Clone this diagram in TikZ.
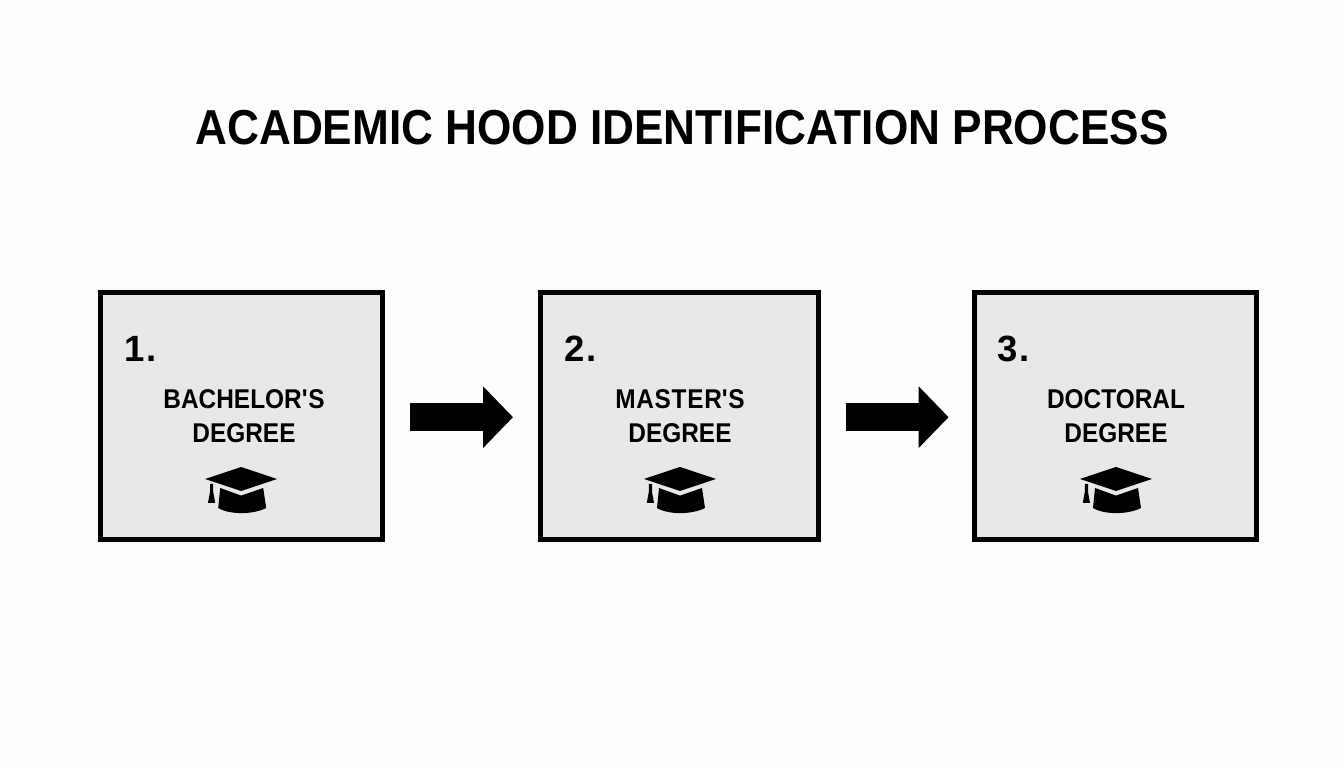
\documentclass[tikz,border=0pt]{standalone}
\usepackage{fontspec}
\setmainfont{Liberation Sans}
\newfontfamily\narrowfont[FakeStretch=0.9]{Liberation Sans}
\usetikzlibrary{arrows.meta}

\definecolor{boxgray}{HTML}{E8E8E8}
\definecolor{pagewhite}{HTML}{FDFDFD}

\tikzset{
  degreebox/.style={draw=black, fill=boxgray, line width=0.125cm, minimum width=7.05cm, minimum height=6.175cm, inner sep=0pt, outer sep=0pt},
  numlabel/.style={anchor=base west, inner sep=0pt, font=\fontsize{26}{30}\selectfont\bfseries},
  degreelabel/.style={align=center, inner sep=0pt, font=\narrowfont\fontsize{19.3}{24}\selectfont\bfseries},
  bigarrow/.style={line width=0.7cm, -{Triangle[length=0.75cm, width=1.5cm]}, shorten <=0.69cm, shorten >=0.69cm},
  hat/.pic={
    \fill (0,.575) -- (-.9,.275) -- (0,-.025) -- (.9,.275) -- cycle;
    \fill (-.525,.05) -- (0,-.14) -- (.55,.05) -- (.625,-.45) .. controls (.3,-.62) and (-.3,-.62) .. (-.575,-.45) -- cycle;
    \fill (-.78,.15) -- (-.70,.15) -- (-.70,-.05) -- (-.65,-.32) -- (-.83,-.32) -- (-.78,-.05) -- cycle;
  }
}

\begin{document}
\begin{tikzpicture}

\useasboundingbox (0,0) rectangle (33.6,19.2);
\fill [pagewhite] (0,0) rectangle (33.6,19.2);

\node (title) at (17.05,16) {\narrowfont\fontsize{34.9}{40}\selectfont\bfseries ACADEMIC HOOD IDENTIFICATION PROCESS};

\node [degreebox] (box1) at (6.03,8.8) {};
\node [degreebox, minimum width=6.95cm] (box2) at (16.99,8.8) {};
\node [degreebox] (box3) at (27.88,8.8) {};

\draw [bigarrow] ([yshift=-0.03cm]box1.east) -- ([yshift=-0.03cm]box2.west);
\draw [bigarrow, shorten >=0.64cm] ([yshift=-0.03cm]box2.east) -- ([yshift=-0.03cm]box3.west);

\node [numlabel] (num1) at (3.1,10.15) {1\kern1.4pt.};
\node [numlabel] (num2) at (14.1,10.15) {2\kern1.4pt.};
\node [numlabel] (num3) at (24.93,10.15) {3\kern1.4pt.};

\node [degreelabel] (deg1) at (6.1,8.8) {BACHELOR\textquotesingle S\\DEGREE};
\node [degreelabel] (deg2) at (17,8.8) {M\kern.5pt A\kern.5pt S\kern.5pt T\kern.5pt E\kern.5pt R\textquotesingle S\\DEGREE};
\node [degreelabel] (deg3) at (27.9,8.8) {DOCTORAL\\DEGREE};

\pic at (6.03,6.95) {hat};
\pic at (17,6.95) {hat};
\pic at (27.9,6.95) {hat};

\end{tikzpicture}
\end{document}
